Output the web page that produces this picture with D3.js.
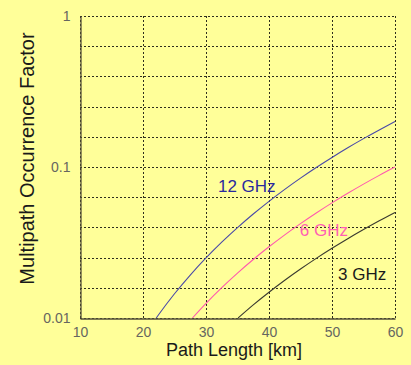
<!DOCTYPE html>
<html>
<head>
<meta charset="utf-8">
<script src="https://cdn.jsdelivr.net/npm/d3@7"></script>
<style>
  html, body { margin: 0; padding: 0; background: #ffff99; }
  svg { display: block; }
  text { font-family: "Liberation Sans", Arial, sans-serif; }
</style>
</head>
<body>
<svg id="chart" width="411" height="365"></svg>
<script>
// ---- data ----
const km12 = [22.1, 22.5, 25, 27.5, 30, 32.5, 35, 37.5, 40, 42.5, 45, 47.5, 50, 52.5, 55, 57.5, 60];
const val12 = [0.0100, 0.01055, 0.01447, 0.01926, 0.0250, 0.03179, 0.0397, 0.04883, 0.05926, 0.07108, 0.08438, 0.09923, 0.1157, 0.1340, 0.1541, 0.1760, 0.200];
const km6 = [27.85, 30, 32.5, 35, 37.5, 40, 42.5, 45, 47.5, 50, 52.5, 55, 57.5, 60];
const val6 = [0.0100, 0.0125, 0.0159, 0.01985, 0.02441, 0.02963, 0.03554, 0.04219, 0.04962, 0.05787, 0.06699, 0.07703, 0.08801, 0.100];
const km3 = [35.1, 37.5, 40, 42.5, 45, 47.5, 50, 52.5, 55, 57.5, 60];
const val3 = [0.0100, 0.01221, 0.01481, 0.01777, 0.02109, 0.02481, 0.02894, 0.0335, 0.03851, 0.04401, 0.0500];
const seriesNames = ["12 GHz", "6 GHz", "3 GHz"];
const xTicks = [10, 20, 30, 40, 50, 60];
const xTickLabels = ["10", "20", "30", "40", "50", "60"];
const yTicks = [0.01, 0.1, 1];
const yTickLabels = ["0.01", "0.1", "1"];
const xTitle = "Path Length [km]";
const yTitle = "Multipath Occurrence Factor";
// label anchors in data units (km, factor)
const labelKm = [31.9, 44.9, 50.95];
const labelVal = [0.0686, 0.0347, 0.01786];

// ---- layout / style ----
const colors = ["#4a4aa8", "#ff5aae", "#3a3a30"];
const labelColors = ["#2a2a9e", "#ff5fb4", "#1a1a1a"];
const mLeft = 80, mRight = 395, mTop = 16, mBottom = 318;

const svg = d3.select("#chart");
const x = d3.scaleLinear().domain([10, 60]).range([mLeft, mRight]);
const y = d3.scaleLog().domain([0.01, 1]).range([mBottom, mTop]);

// grid
const gridColor = "#2e2e1e";
const yGrid = d3.range(0, 11).map(i => Math.pow(10, -i / 5));
svg.append("g").selectAll("line").data(yGrid).join("line")
  .attr("x1", mLeft).attr("x2", mRight)
  .attr("y1", d => Math.round(y(d)) + 0.5).attr("y2", d => Math.round(y(d)) + 0.5)
  .attr("stroke", gridColor).attr("stroke-width", 1).attr("stroke-dasharray", "2,2");
svg.append("g").selectAll("line").data(xTicks).join("line")
  .attr("x1", d => Math.round(x(d)) + 0.5).attr("x2", d => Math.round(x(d)) + 0.5)
  .attr("y1", mTop).attr("y2", mBottom)
  .attr("stroke", gridColor).attr("stroke-width", 1).attr("stroke-dasharray", "2,2");

// axes (solid left & bottom)
const xAxis = d3.axisBottom(x).tickValues(xTicks).tickFormat((d, i) => xTickLabels[i]).tickSize(0).tickPadding(9);
const yAxis = d3.axisLeft(y).tickValues(yTicks).tickFormat((d, i) => yTickLabels[i]).tickSize(0).tickPadding(10);
const gx = svg.append("g").attr("transform", `translate(0,${mBottom + 0.5})`).call(xAxis);
const gy = svg.append("g").attr("transform", `translate(${mLeft + 0.5},0)`).call(yAxis);
[gx, gy].forEach(g => {
  g.select(".domain").attr("stroke", "#55503a").attr("stroke-width", 1.3);
  g.selectAll("text").attr("fill", "#666660").attr("font-size", 14)
    .attr("font-family", "'Liberation Sans', Arial, sans-serif");
});

// lines
const kms = [km12, km6, km3];
const vals = [val12, val6, val3];
const line = d3.line().x(d => x(d[0])).y(d => y(d[1])).curve(d3.curveMonotoneX);
seriesNames.forEach((name, i) => {
  const pts = kms[i].map((k, j) => [k, vals[i][j]]);
  svg.append("path").datum(pts).attr("d", line)
    .attr("fill", "none").attr("stroke", colors[i]).attr("stroke-width", 1.1);
});

// series labels
seriesNames.forEach((name, i) => {
  svg.append("text").attr("x", x(labelKm[i])).attr("y", y(labelVal[i]))
    .attr("font-size", 17).attr("fill", labelColors[i]).text(name);
});

// axis titles
svg.append("text").attr("x", 234).attr("y", 356).attr("text-anchor", "middle")
  .attr("font-size", 18).attr("fill", "#1a1a1a").text(xTitle);
svg.append("text").attr("transform", "translate(34,158.5) rotate(-90)").attr("text-anchor", "middle")
  .attr("font-size", 20).attr("fill", "#1a1a1a").text(yTitle);
</script>
</body>
</html>
